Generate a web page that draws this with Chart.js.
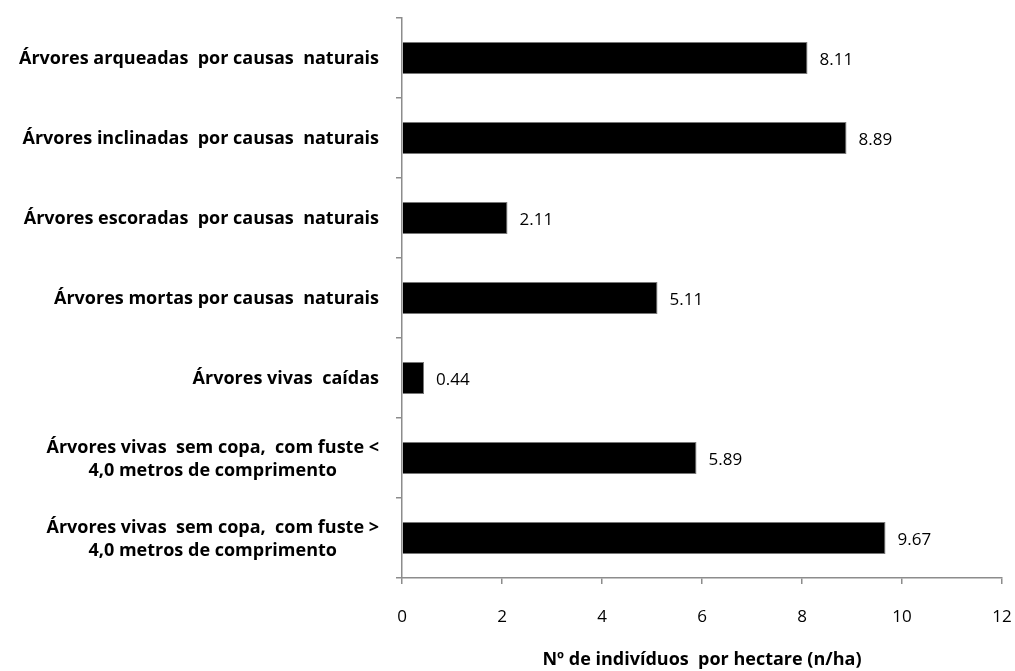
<!DOCTYPE html>
<html>
<head>
<meta charset="utf-8">
<script src="https://cdn.jsdelivr.net/npm/chart.js@4/dist/chart.umd.min.js"></script>
<style>
  html, body { margin: 0; padding: 0; background: #fff; }
  #wrap { width: 1015px; height: 671px; position: relative; }
</style>
</head>
<body>
<div id="wrap"><canvas id="grafico"></canvas></div>
<script>
// categorias (cada linha do rótulo em um item)
const categorias = [
  ['Árvores arqueadas  por causas  naturais'],
  ['Árvores inclinadas  por causas  naturais'],
  ['Árvores escoradas  por causas  naturais'],
  ['Árvores mortas por causas  naturais'],
  ['Árvores vivas  caídas'],
  ['Árvores vivas  sem copa,  com fuste <', '4,0 metros de comprimento'],
  ['Árvores vivas  sem copa,  com fuste >', '4,0 metros de comprimento']
];
const valores = [8.11, 8.89, 2.11, 5.11, 0.44, 5.89, 9.67];
const ticksX = [0, 2, 4, 6, 8, 10, 12];
const tituloX = 'Nº de indivíduos  por hectare (n/ha)';

const FONTE = "'Open Sans', 'DejaVu Sans', sans-serif";
const CINZA = '#8c8c8c';

// rótulos das categorias: bloco alinhado à direita, linhas centralizadas entre si
const rotulosY = {
  id: 'rotulosY',
  afterDraw(chart) {
    const { ctx, scales: { y } } = chart;
    ctx.save();
    ctx.font = 'bold 18px ' + FONTE;
    ctx.fillStyle = '#000';
    ctx.textBaseline = 'middle';
    ctx.textAlign = 'center';
    const direita = y.right - 23;
    const alturaLinha = 23;
    categorias.forEach((linhas, i) => {
      const cy = y.getPixelForValue(i);
      const larg = Math.max(...linhas.map(l => ctx.measureText(l).width));
      const cx = direita - larg / 2;
      linhas.forEach((l, k) => {
        const dy = (k - (linhas.length - 1) / 2) * alturaLinha;
        ctx.fillText(l, cx, cy + dy + 1);
      });
    });
    ctx.restore();
  }
};

// valor ao lado de cada barra
const valoresBarras = {
  id: 'valoresBarras',
  afterDatasetsDraw(chart) {
    const { ctx } = chart;
    const meta = chart.getDatasetMeta(0);
    ctx.save();
    ctx.font = '17px ' + FONTE;
    ctx.fillStyle = '#000';
    ctx.textBaseline = 'middle';
    ctx.textAlign = 'left';
    meta.data.forEach((bar, i) => {
      ctx.fillText(valores[i].toFixed(2), bar.x + 12, bar.y + 2);
    });
    ctx.restore();
  }
};

new Chart(document.getElementById('grafico'), {
  type: 'bar',
  data: {
    labels: categorias.map(l => l.join(' ')),
    datasets: [{
      data: valores,
      backgroundColor: '#000',
      borderColor: '#777',
      borderWidth: 1,
      categoryPercentage: 1,
      barPercentage: 0.4
    }]
  },
  options: {
    indexAxis: 'y',
    responsive: true,
    maintainAspectRatio: false,
    animation: false,
    layout: { padding: { top: 18, right: 13, left: 0, bottom: 0 } },
    plugins: {
      legend: { display: false },
      tooltip: { enabled: false }
    },
    scales: {
      x: {
        min: 0,
        max: 12,
        afterBuildTicks(axis) { axis.ticks = ticksX.map(v => ({ value: v })); },
        grid: { drawOnChartArea: false, color: CINZA, tickLength: 6, lineWidth: 1.5 },
        border: { color: CINZA, width: 1.5 },
        ticks: { color: '#000', font: { family: FONTE, size: 17 }, padding: 23 },
        title: {
          display: true,
          text: tituloX,
          color: '#000',
          font: { family: FONTE, size: 18, weight: 'bold' },
          padding: { top: 10, bottom: 0 }
        },
        afterFit(axis) {
          axis.height = 93;
          axis.paddingRight = 0;
          axis.paddingLeft = 0;
        }
      },
      y: {
        grid: { drawOnChartArea: false, color: CINZA, tickLength: 6, offset: true, lineWidth: 1.5 },
        border: { color: CINZA, width: 1.5 },
        ticks: { display: false },
        afterFit(axis) { axis.width = 402; }
      }
    }
  },
  plugins: [rotulosY, valoresBarras]
});
</script>
</body>
</html>
